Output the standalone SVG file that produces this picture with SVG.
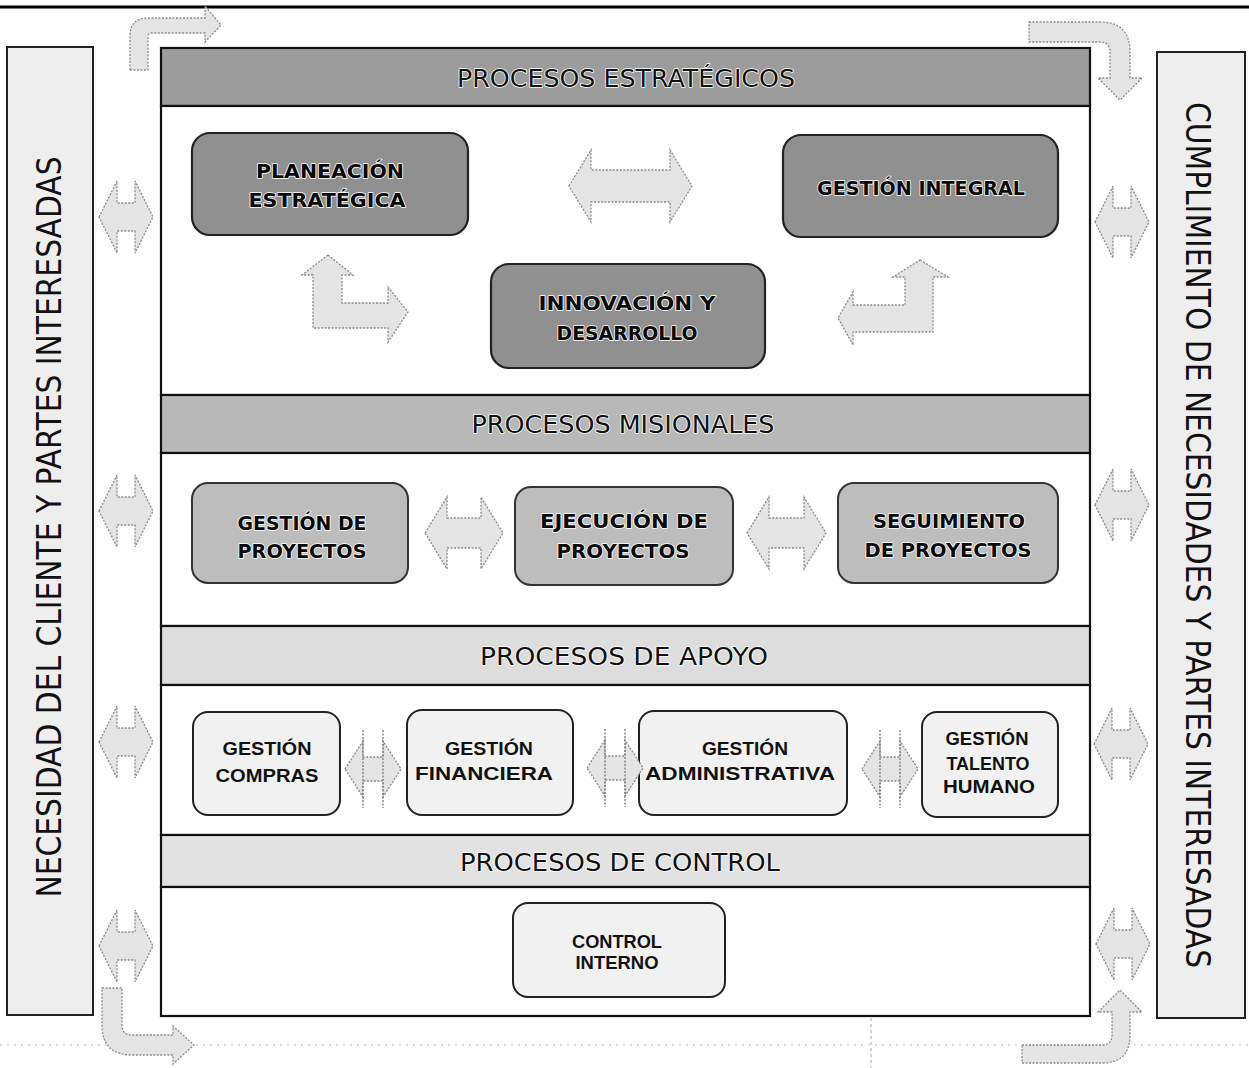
<svg xmlns="http://www.w3.org/2000/svg" xmlns:xlink="http://www.w3.org/1999/xlink" width="1249" height="1068" viewBox="0 0 1249 1068">
<style>
.sec{stroke:#111;stroke-width:2.2}
.side{fill:#eeeeee;stroke:#222;stroke-width:2}
.arrow{fill:#e4e4e4;stroke:#8a8a8a;stroke-width:1.3;stroke-dasharray:2 1.5}
.aline{stroke:#777;stroke-width:1.3;fill:none}
.nS{fill:#909090;stroke:#222;stroke-width:2.2}
.nM{fill:#bdbdbd;stroke:#333;stroke-width:2}
.nA{fill:#f1f1f1;stroke:#222;stroke-width:2}
.band{font-family:"DejaVu Sans","Liberation Sans",sans-serif;font-size:24px;fill:#111;text-anchor:middle;stroke:#fff;stroke-width:1.5px;paint-order:stroke;stroke-linejoin:round}
.tB{font-family:"DejaVu Sans","Liberation Sans",sans-serif;font-weight:bold;font-size:20px;fill:#0a0a0a;text-anchor:middle;stroke:#fff;stroke-width:1.6px;paint-order:stroke;stroke-linejoin:round}
.tA{font-family:"Liberation Sans","DejaVu Sans",sans-serif;font-weight:bold;font-size:18.5px;fill:#111;text-anchor:middle}
.vt{font-family:"DejaVu Sans","Liberation Sans",sans-serif;font-size:34px;fill:#111;text-anchor:middle}
</style>
<defs>
<path id="dbl" d="M-27,0 L-9,-36 L-9,-14 L9,-14 L9,-36 L27,0 L9,36 L9,14 L-9,14 L-9,36 Z"/>
<g id="dblv">
<path d="M-28,0 L-10,-28 L-10,-12 L10,-12 L10,-28 L28,0 L10,28 L10,12 L-10,12 L-10,28 Z"/>
<line class="aline" x1="-10" y1="-39" x2="-10" y2="39"/>
<line class="aline" x1="10" y1="-39" x2="10" y2="39"/>
</g>
</defs>

<rect x="0" y="0" width="1249" height="1068" fill="#ffffff"/>
<line x1="0" y1="7" x2="1249" y2="7" stroke="#000" stroke-width="3"/>
<line x1="0" y1="1045" x2="1249" y2="1045" stroke="#bbb" stroke-width="1" stroke-dasharray="2 5"/>
<line x1="871" y1="1018" x2="871" y2="1068" stroke="#aaa" stroke-width="1" stroke-dasharray="3 3"/>

<g id="left-bar">
<rect class="side" x="7" y="47" width="86" height="968"/>
<text class="vt" x="61" y="527" transform="rotate(-90 61 527)" textLength="741" lengthAdjust="spacingAndGlyphs">NECESIDAD DEL CLIENTE Y PARTES INTERESADAS</text>
</g>
<g id="right-bar">
<rect class="side" x="1157" y="52" width="88" height="966"/>
<text class="vt" x="1198" y="535" writing-mode="vertical-rl" font-size="32" textLength="866" lengthAdjust="spacingAndGlyphs">CUMPLIMIENTO DE NECESIDADES Y PARTES INTERESADAS</text>
</g>

<g id="frame">
<rect class="sec" x="161" y="48" width="929" height="58" fill="#9c9c9c"/>
<rect class="sec" x="161" y="106" width="929" height="289" fill="#ffffff"/>
<rect class="sec" x="161" y="395" width="929" height="58" fill="#b8b8b8"/>
<rect class="sec" x="161" y="453" width="929" height="173" fill="#ffffff"/>
<rect class="sec" x="161" y="626" width="929" height="59" fill="#dddddd"/>
<rect class="sec" x="161" y="685" width="929" height="150" fill="#ffffff"/>
<rect class="sec" x="161" y="835" width="929" height="52" fill="#e2e2e2"/>
<rect class="sec" x="161" y="887" width="929" height="129" fill="#ffffff"/>
<text class="band" x="626" y="87" textLength="338" lengthAdjust="spacingAndGlyphs">PROCESOS ESTRATÉGICOS</text>
<text class="band" x="623" y="433" textLength="303" lengthAdjust="spacingAndGlyphs">PROCESOS MISIONALES</text>
<text class="band" x="624" y="665" textLength="288" lengthAdjust="spacingAndGlyphs">PROCESOS DE APOYO</text>
<text class="band" x="620" y="871" textLength="320" lengthAdjust="spacingAndGlyphs">PROCESOS DE CONTROL</text>
</g>

<g id="planeacion">
<rect class="nS" x="192" y="133" width="276" height="102" rx="18"/>
<text class="tB" x="330" y="178" textLength="148" lengthAdjust="spacingAndGlyphs">PLANEACIÓN</text>
<text class="tB" x="327" y="207" textLength="157" lengthAdjust="spacingAndGlyphs">ESTRATÉGICA</text>
</g>
<g id="gestion-integral">
<rect class="nS" x="783" y="135" width="275" height="102" rx="18"/>
<text class="tB" x="921" y="195" textLength="208" lengthAdjust="spacingAndGlyphs">GESTIÓN INTEGRAL</text>
</g>
<g id="innovacion">
<rect class="nS" x="491" y="264" width="274" height="104" rx="18"/>
<text class="tB" x="627" y="310" textLength="177" lengthAdjust="spacingAndGlyphs">INNOVACIÓN Y</text>
<text class="tB" x="627" y="340" textLength="141" lengthAdjust="spacingAndGlyphs">DESARROLLO</text>
</g>

<g id="gestion-proyectos">
<rect class="nM" x="192" y="483" width="216" height="100" rx="16"/>
<text class="tB" x="302" y="530" textLength="129" lengthAdjust="spacingAndGlyphs">GESTIÓN DE</text>
<text class="tB" x="302" y="558" textLength="129" lengthAdjust="spacingAndGlyphs">PROYECTOS</text>
</g>
<g id="ejecucion-proyectos">
<rect class="nM" x="515" y="487" width="218" height="98" rx="16"/>
<text class="tB" x="624" y="528" textLength="168" lengthAdjust="spacingAndGlyphs">EJECUCIÓN DE</text>
<text class="tB" x="623" y="558" textLength="133" lengthAdjust="spacingAndGlyphs">PROYECTOS</text>
</g>
<g id="seguimiento-proyectos">
<rect class="nM" x="838" y="483" width="220" height="100" rx="16"/>
<text class="tB" x="949" y="528" textLength="152" lengthAdjust="spacingAndGlyphs">SEGUIMIENTO</text>
<text class="tB" x="948" y="557" textLength="167" lengthAdjust="spacingAndGlyphs">DE PROYECTOS</text>
</g>

<g id="gestion-compras">
<rect class="nA" x="193" y="712" width="147" height="103" rx="15"/>
<text class="tA" x="267" y="755" textLength="89" lengthAdjust="spacingAndGlyphs">GESTIÓN</text>
<text class="tA" x="267" y="782" textLength="103" lengthAdjust="spacingAndGlyphs">COMPRAS</text>
</g>
<g id="gestion-financiera">
<rect class="nA" x="407" y="710" width="166" height="105" rx="15"/>
<text class="tA" x="489" y="755" textLength="88" lengthAdjust="spacingAndGlyphs">GESTIÓN</text>
<text class="tA" x="484" y="780" textLength="138" lengthAdjust="spacingAndGlyphs">FINANCIERA</text>
</g>
<g id="gestion-administrativa">
<rect class="nA" x="639" y="711" width="208" height="104" rx="15"/>
<text class="tA" x="745" y="755" textLength="86" lengthAdjust="spacingAndGlyphs">GESTIÓN</text>
<text class="tA" x="740" y="780" textLength="190" lengthAdjust="spacingAndGlyphs">ADMINISTRATIVA</text>
</g>
<g id="gestion-talento">
<rect class="nA" x="922" y="712" width="136" height="105" rx="15"/>
<text class="tA" x="987" y="745" textLength="83" lengthAdjust="spacingAndGlyphs">GESTIÓN</text>
<text class="tA" x="988" y="770" textLength="83" lengthAdjust="spacingAndGlyphs">TALENTO</text>
<text class="tA" x="989" y="793" textLength="92" lengthAdjust="spacingAndGlyphs">HUMANO</text>
</g>

<g id="control-interno">
<rect class="nA" x="513" y="903" width="212" height="94" rx="15"/>
<text class="tA" x="617" y="948" font-size="18" textLength="90" lengthAdjust="spacingAndGlyphs">CONTROL</text>
<text class="tA" x="617" y="969" font-size="18" textLength="83" lengthAdjust="spacingAndGlyphs">INTERNO</text>
</g>

<g id="connectors">
<path class="arrow" d="M569,186 L591,150 L591,170 L670,170 L670,150 L692,186 L670,222 L670,202 L591,202 L591,222 Z"/>
<path class="arrow" d="M328,255 L353,275 L342,275 L342,303 L388,303 L388,287 L408,312 L388,342 L388,328 L313,328 L313,275 L302,275 Z"/>
<path class="arrow" d="M920,260 L948,277 L933,277 L933,332 L853,332 L853,345 L838,318 L853,292 L853,305 L905,305 L905,277 L893,277 Z"/>
<path class="arrow" d="M425,533 L447,497 L447,518 L481,518 L481,497 L503,533 L481,569 L481,548 L447,548 L447,569 Z"/>
<path class="arrow" d="M747,533 L769,497 L769,518 L804,518 L804,497 L826,533 L804,569 L804,548 L769,548 L769,569 Z"/>
<use class="arrow" href="#dblv" xlink:href="#dblv" x="373" y="769"/>
<use class="arrow" href="#dblv" xlink:href="#dblv" x="615" y="768"/>
<use class="arrow" href="#dblv" xlink:href="#dblv" x="890" y="769"/>
<use class="arrow" href="#dbl" xlink:href="#dbl" x="126" y="217"/>
<use class="arrow" href="#dbl" xlink:href="#dbl" x="126" y="511"/>
<use class="arrow" href="#dbl" xlink:href="#dbl" x="126" y="742"/>
<use class="arrow" href="#dbl" xlink:href="#dbl" x="126" y="946"/>
<use class="arrow" href="#dbl" xlink:href="#dbl" x="1122" y="222"/>
<use class="arrow" href="#dbl" xlink:href="#dbl" x="1122" y="505"/>
<use class="arrow" href="#dbl" xlink:href="#dbl" x="1121" y="744"/>
<use class="arrow" href="#dbl" xlink:href="#dbl" x="1123" y="944"/>
<path class="arrow" d="M130,70 L130,36 Q130,18 148,18 L205,18 L205,6 L221,25 L205,42 L205,33 L152,33 Q148,33 148,37 L148,70 Z"/>
<path class="arrow" d="M1029,22 L1100,22 Q1130,22 1130,52 L1130,78 L1142,78 L1120,100 L1098,78 L1110,78 L1110,52 Q1110,42 1100,42 L1029,42 Z"/>
<path class="arrow" d="M102,988 L122,988 L122,1025 Q122,1035 132,1035 L173,1035 L173,1026 L194,1045 L173,1064 L173,1055 L132,1055 Q102,1055 102,1025 Z"/>
<path class="arrow" d="M1022,1045 L1102,1045 Q1112,1045 1112,1035 L1112,1012 L1098,1012 L1120,990 L1142,1012 L1130,1012 L1130,1035 Q1130,1063 1102,1063 L1022,1063 Z"/>
</g>
</svg>
